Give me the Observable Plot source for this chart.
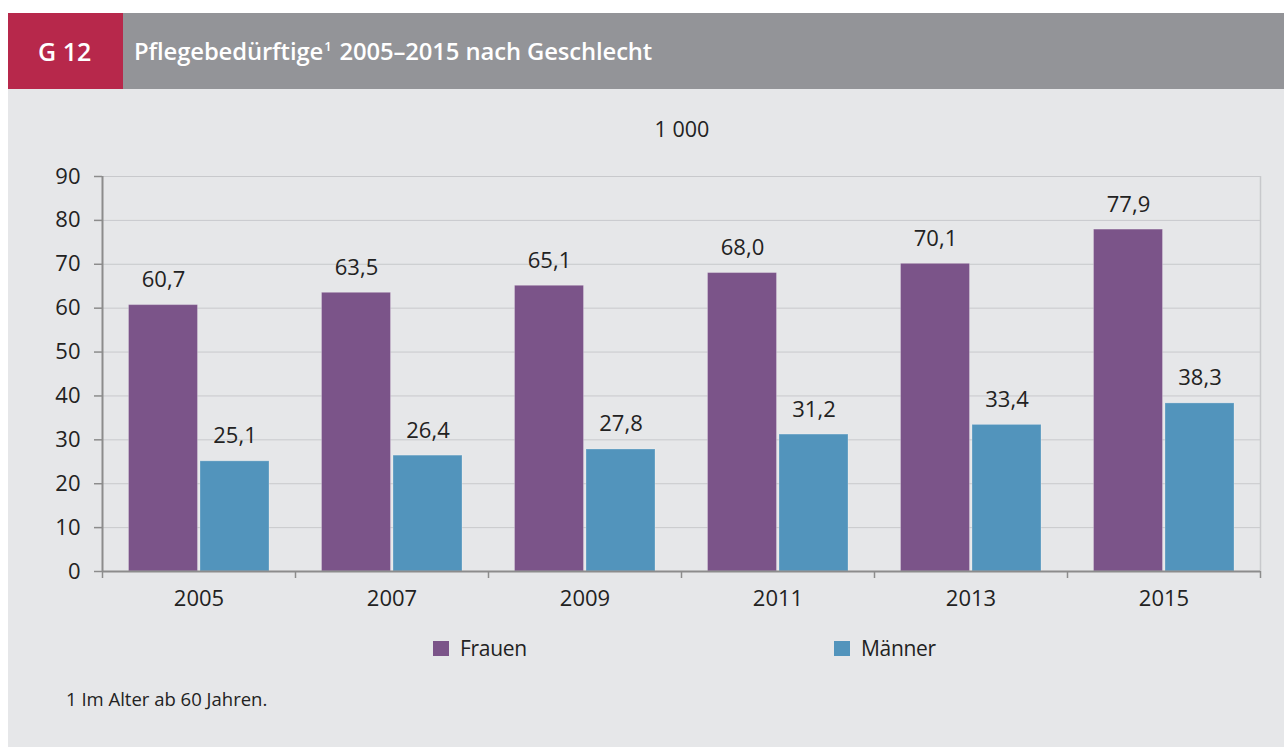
<!DOCTYPE html>
<html>
<head>
<meta charset="utf-8">
<script src="https://cdn.jsdelivr.net/npm/d3@7"></script>
<script src="https://cdn.jsdelivr.net/npm/@observablehq/plot@0.6"></script>
<style>
  html, body { margin: 0; padding: 0; background: #fff; }
  body { width: 1284px; height: 747px; position: relative; overflow: hidden; font-family: "Open Sans", sans-serif; color: #222; }
  #panel { position: absolute; left: 8px; top: 89px; width: 1276px; height: 658px; background: #e6e7e9; }
  #hdr-red { position: absolute; left: 8px; top: 13px; width: 115px; height: 76px; background: #b7284b; color: #fff; font-size: 25px; font-weight: 600; line-height: 76px; box-sizing: border-box; padding-left: 30px; }
  #hdr-grey { position: absolute; left: 123px; top: 13px; width: 1161px; height: 76px; background: #939498; color: #fff; font-size: 23.8px; font-weight: 600; line-height: 76px; box-sizing: border-box; padding-left: 11px; letter-spacing: -0.1px; }
  #hdr-grey sup { font-size: 13px; vertical-align: 0; position: relative; top: -9px; margin-right: 8px; margin-left: 1px; }
  #unit { position: absolute; left: 0; width: 1364px; top: 114px; text-align: center; font-size: 21.5px; }
  #chart { position: absolute; left: 0; top: 150px; }
  .leg { position: absolute; top: 634px; font-size: 21px; line-height: 28px; display: flex; align-items: center; letter-spacing: -0.3px; }
  .leg .sw { width: 16px; height: 15px; margin-right: 11px; }
  #foot { position: absolute; left: 66px; top: 686px; font-size: 18.5px; }
</style>
</head>
<body>
<div id="panel"></div>
<div id="hdr-red">G 12</div>
<div id="hdr-grey">Pflegebedürftige<sup>1</sup>2005–2015 nach Geschlecht</div>
<div id="unit">1 000</div>
<div id="chart"></div>
<div class="leg" style="left:433px"><div class="sw" style="background:#7b5489"></div>Frauen</div>
<div class="leg" style="left:834px"><div class="sw" style="background:#5294bc"></div>Männer</div>
<div id="foot">1 Im Alter ab 60 Jahren.</div>
<script>
const years = ["2005", "2007", "2009", "2011", "2013", "2015"];
const frauen = [60.7, 63.5, 65.1, 68.0, 70.1, 77.9];
const maenner = [25.1, 26.4, 27.8, 31.2, 33.4, 38.3];
const yTicks = [0, 10, 20, 30, 40, 50, 60, 70, 80, 90];
const seriesNames = ["Frauen", "Männer"];
const colors = ["#7b5489", "#5294bc"];

const W = 1284, H = 470, mL = 102, mR = 24, mT = 26, mB = 49;
const bw = (W - mL - mR) / years.length;

const dataF = years.map((y, i) => ({year: y, value: frauen[i]}));
const dataM = years.map((y, i) => ({year: y, value: maenner[i]}));
const fmt = v => v.toFixed(1).replace(".", ",");

const plot = Plot.plot({
  width: W, height: H,
  marginLeft: mL, marginRight: mR, marginTop: mT, marginBottom: mB,
  style: {background: "transparent", fontFamily: "'Open Sans', sans-serif", fontSize: "22px", color: "#222"},
  x: {domain: years, padding: 0},
  y: {domain: [0, 90]},
  marks: [
    Plot.gridY(yTicks.slice(1), {stroke: "#c8c9cc", strokeOpacity: 1, strokeWidth: 1}),
    Plot.ruleX([years[years.length - 1]], {dx: bw / 2, stroke: "#c8c9cc", strokeWidth: 1.5}),
    Plot.barY(dataF, {x: "year", y: "value", fill: colors[0], insetLeft: 26.5, insetRight: 97.5, stroke: "#ffffff", strokeOpacity: 0.25, strokeWidth: 1}),
    Plot.barY(dataM, {x: "year", y: "value", fill: colors[1], insetLeft: 98, insetRight: 26, stroke: "#ffffff", strokeOpacity: 0.25, strokeWidth: 1}),
    Plot.text(dataF, {x: "year", y: "value", text: d => fmt(d.value), dx: -35.5, dy: -18, lineAnchor: "bottom", fill: "#222", fontSize: 22}),
    Plot.text(dataM, {x: "year", y: "value", text: d => fmt(d.value), dx: 36, dy: -18, lineAnchor: "bottom", fill: "#222", fontSize: 22}),
    Plot.ruleY([0], {stroke: "#8c8c8c", strokeWidth: 2}),
    Plot.ruleX([years[0]], {dx: -bw / 2, stroke: "#8c8c8c", strokeWidth: 2}),
    Plot.axisY({ticks: yTicks, tickSize: 8, tickPadding: 14, stroke: "#8c8c8c", strokeWidth: 1.5, label: null, fontSize: 22, tickFormat: d => String(d)}),
    Plot.axisX({ticks: years, tickSize: 0, tickPadding: 19, label: null, fontSize: 22}),
    Plot.axisX({ticks: years, tickSize: 7, tickFormat: () => "", dx: -bw / 2, stroke: "#8c8c8c", strokeWidth: 1.5, label: null}),
    Plot.axisX({ticks: [years[years.length - 1]], tickSize: 7, tickFormat: () => "", dx: bw / 2, stroke: "#8c8c8c", strokeWidth: 1.5, label: null})
  ]
});
document.getElementById("chart").appendChild(plot);
</script>
</body>
</html>
